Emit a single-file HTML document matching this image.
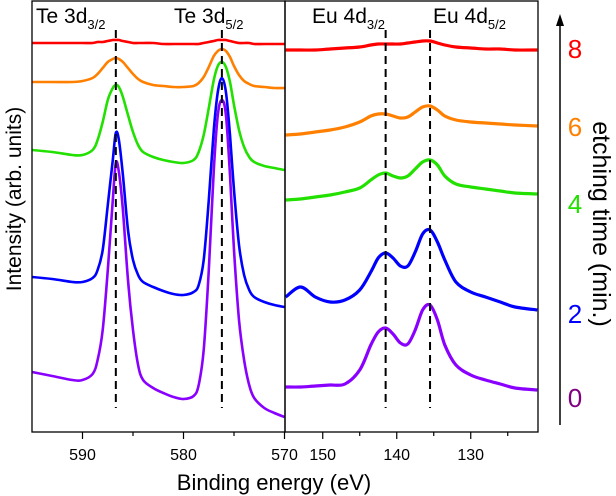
<!DOCTYPE html>
<html><head><meta charset="utf-8"><style>
html,body{margin:0;padding:0;background:#fff;}
svg{display:block;font-family:"Liberation Sans",Arial,sans-serif;}
</style></head><body>
<svg id="chart" width="616" height="496" viewBox="0 0 616 496" xmlns="http://www.w3.org/2000/svg">
<g id="plot"></g>
<g id="axes"></g>
<text x="36" y="23" font-size="21">Te 3d<tspan font-size="13" dy="6">3/2</tspan></text>
<text x="174" y="23" font-size="21">Te 3d<tspan font-size="13" dy="6">5/2</tspan></text>
<text x="312" y="23" font-size="21">Eu 4d<tspan font-size="13" dy="6">3/2</tspan></text>
<text x="433" y="23" font-size="21">Eu 4d<tspan font-size="13" dy="6">5/2</tspan></text>
<text transform="translate(21,199) rotate(-90)" text-anchor="middle" font-size="21">Intensity (arb. units)</text>
<text x="274" y="490" text-anchor="middle" font-size="22">Binding energy (eV)</text>
<g>
<line x1="560" y1="425" x2="560" y2="24" stroke="#000" stroke-width="1.5"/>
<polygon points="560,14 556,26 564,26" fill="#000"/>
</g>
<text x="575" y="58" text-anchor="middle" font-size="26" fill="#ff0000">8</text>
<text x="575" y="136" text-anchor="middle" font-size="26" fill="#ff8000">6</text>
<text x="575" y="213" text-anchor="middle" font-size="26" fill="#22e000">4</text>
<text x="575" y="323" text-anchor="middle" font-size="26" fill="#0000ff">2</text>
<text x="575" y="407" text-anchor="middle" font-size="26" fill="#800080">0</text>
<text transform="translate(593,224) rotate(90)" text-anchor="middle" font-size="25">etching time (min.)</text>
</svg>
<script>
// Te 3d region energies (eV)
const teEnergy = [595,593,591,590,589,588.5,588,587.5,587,586.7,586.4,586,585.5,585,584.5,584,583,582,581,580,579,578.5,578,577.5,577,576.6,576.2,575.8,575.4,575,574.5,574,573.5,573,572,571,570];
// intensities (arb., larger = higher)
const teRed    = [389,389,389,389,389,390,390,391,392,392,392,391,390,389,389,389,389,388,388,388,388,388,389,390,391,392,392,392,391,390,389,389,389,388,388,388,388];
const teOrange = [350,350,350,351,354,358,364,370,373,374,373,370,364,358,353,350,347,346,345,345,346,349,355,365,376,381,383,381,375,366,357,351,348,346,345,344,344];
const teGreen  = [282,280,277,277,282,292,310,332,344,347,345,335,317,300,287,280,275,272,270,269,272,280,297,324,352,366,370,365,350,327,302,285,275,270,266,264,262];
const teBlue   = [155,153,150,150,154,162,182,227,272,299,292,257,202,172,157,150,145,141,138,137,140,147,172,232,302,340,354,340,297,242,187,157,142,135,130,127,125];
const tePurple = [60,56,52,52,58,72,102,162,232,269,260,222,152,102,67,52,44,39,35,33,36,47,82,162,262,317,332,317,257,182,112,72,47,34,24,19,15];
// Eu 4d region energies (eV)
const euEnergy = [155,153,151,149,147,145,143.5,142.5,141.5,140.5,139.5,138.5,137.5,136.5,135.5,134.5,133.5,132,130,128,126,124,121];
const euRed    = [382,382,382,383,384,385,387,388,388,388,388,389,390,391,391,389,387,385,384,383,383,382,382];
const euOrange = [297,298,300,302,305,310,316,318,318,316,314,315,320,325,326,322,316,312,310,309,308,307,306];
const euGreen  = [232,233,235,237,240,244,252,257,259,256,254,256,263,270,272,267,256,248,245,243,241,239,238];
const euBlue   = [135,145,135,130,132,142,160,174,179,174,166,166,180,198,202,190,172,150,140,135,130,125,122];
const euPurple = [45,45,46,47,48,62,87,100,104,98,89,88,102,122,127,112,87,67,57,52,48,44,42];
// peak positions (eV)
const tePeaks = [586.7, 576.2];
const euPeaks = [141.5, 135.5];
const teTicks = [590,580,570];
const teMinor = [585,575];
const euTicks = [150,140,130];
const euMinor = [145,135,125];

const NS = "http://www.w3.org/2000/svg";
const TOP = 1, BOT = 432;
const teX = e => 32 + (595 - e) * 10.1;
const euX = e => 285 + (155.1 - e) * 7.4;
const yS = v => BOT - v;
const plot = document.getElementById('plot');
const axes = document.getElementById('axes');

function mk(tag, attrs, parent) {
  const el = document.createElementNS(NS, tag);
  for (const k in attrs) el.setAttribute(k, attrs[k]);
  parent.appendChild(el);
  return el;
}
function smoothPath(xs, ys) {
  let d = `M${xs[0].toFixed(1)},${ys[0].toFixed(1)}`;
  for (let i = 0; i < xs.length - 1; i++) {
    const x0 = xs[Math.max(i-1,0)], y0 = ys[Math.max(i-1,0)];
    const x1 = xs[i], y1 = ys[i], x2 = xs[i+1], y2 = ys[i+1];
    const x3 = xs[Math.min(i+2,xs.length-1)], y3 = ys[Math.min(i+2,ys.length-1)];
    const c1x = x1 + (x2 - x0)/6, c1y = y1 + (y2 - y0)/6;
    const c2x = x2 - (x3 - x1)/6, c2y = y2 - (y3 - y1)/6;
    d += ` C${c1x.toFixed(1)},${c1y.toFixed(1)} ${c2x.toFixed(1)},${c2y.toFixed(1)} ${x2.toFixed(1)},${y2.toFixed(1)}`;
  }
  return d;
}
const series = [
  ['red', '#ff0000', teRed, euRed],
  ['orange', '#ff8000', teOrange, euOrange],
  ['green', '#22e000', teGreen, euGreen],
  ['blue', '#0000ff', teBlue, euBlue],
  ['purple', '#8a00ff', tePurple, euPurple]
];
series.forEach(s => {
  const p1 = mk('path', {d: smoothPath(teEnergy.map(teX), s[2].map(yS)), fill: 'none', stroke: s[1], 'stroke-width': 2.6, 'stroke-linejoin': 'round'}, plot);
  
  
  const p2 = mk('path', {d: smoothPath(euEnergy.map(euX), s[3].map(yS)), fill: 'none', stroke: s[1], 'stroke-width': 3.2, 'stroke-linejoin': 'round'}, plot);
  
  
});
tePeaks.forEach(e => {
  const l = mk('line', {x1: teX(e), x2: teX(e), y1: 30, y2: 408, stroke: '#000', 'stroke-width': 2, 'stroke-dasharray': '8,5'}, plot);
  
  
});
euPeaks.forEach(e => {
  const l = mk('line', {x1: euX(e), x2: euX(e), y1: 30, y2: 408, stroke: '#000', 'stroke-width': 2, 'stroke-dasharray': '8,5'}, plot);
  
  
});
const f1 = mk('rect', {x: 32, y: TOP, width: 253, height: BOT - TOP, fill: 'none', stroke: '#000', 'stroke-width': 1.3}, axes);


const f2 = mk('rect', {x: 285, y: TOP, width: 253, height: BOT - TOP, fill: 'none', stroke: '#000', 'stroke-width': 1.3}, axes);


function tick(x, len) {
  const t = mk('line', {x1: x, x2: x, y1: BOT, y2: BOT + len, stroke: '#000', 'stroke-width': 1.2}, axes);
  
  
}
function label(x, txt) {
  const t = mk('text', {x: x, y: 460, 'text-anchor': 'middle', 'font-size': 16}, axes);
  t.textContent = txt;
  
  
}
teTicks.forEach(e => { tick(teX(e), 7); label(teX(e), e); });
teMinor.forEach(e => tick(teX(e), 4));
euTicks.forEach(e => { tick(euX(e), 7); label(euX(e), e); });
euMinor.forEach(e => tick(euX(e), 4));
</script>
</body></html>
